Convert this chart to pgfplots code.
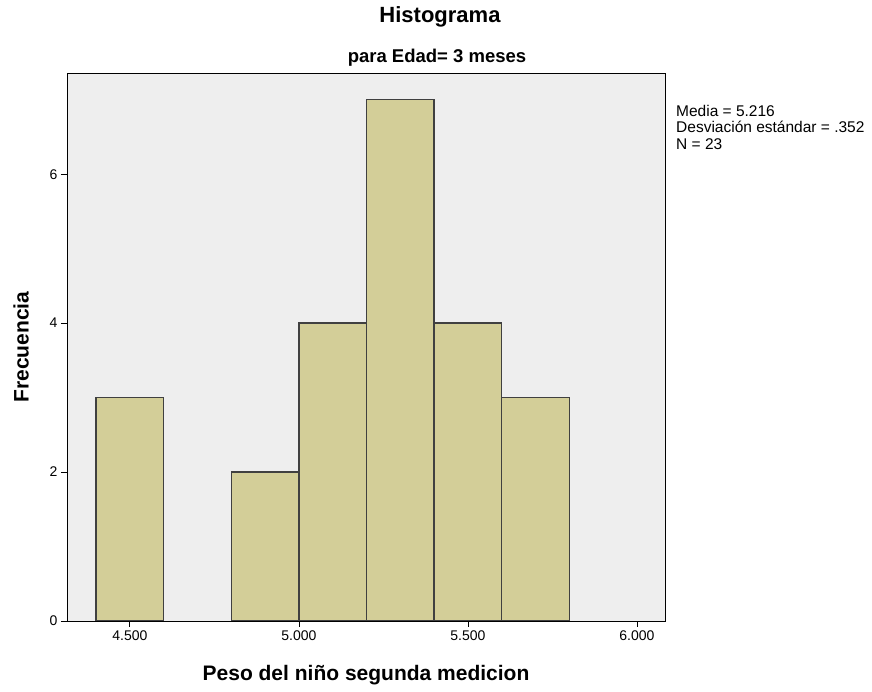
\documentclass[border=0pt]{standalone}
\usepackage{pgfplots}
\pgfplotsset{compat=1.18}
\usepackage{fontspec}
\setmainfont{Liberation Sans}
\definecolor{barfill}{HTML}{D3CE98}
\definecolor{bg}{HTML}{EEEEEE}
\begin{document}
\begin{tikzpicture}[x=1pt,y=1pt]
\useasboundingbox (0pt,0pt) rectangle (872pt,692pt);
\begin{axis}[
  at={(67pt,71pt)}, anchor=south west,
  scale only axis, width=598pt, height=548pt,
  xmin=4.314, xmax=6.083, ymin=0, ymax=7.36,
  axis background/.style={fill=bg},
  xtick={4.5,5,5.5,6}, xticklabels={4.500,5.000,5.500,6.000},
  ytick={0,2,4,6},
  tick align=outside, tick pos=left,
  major tick length=6pt,
  tick style={black, line width=0.8pt},
  axis line style={black, line width=0.8pt},
  /pgf/number format/assume math mode=true,
  ticklabel style={font=\fontsize{14}{16}\selectfont},
  xlabel={\textbf{Peso del niño segunda medicion}},
  ylabel={\textbf{Frecuencia}},
  xlabel style={font=\fontsize{21}{24}\selectfont, yshift=-18pt},
  ylabel style={font=\fontsize{21}{24}\selectfont, yshift=14pt},
]
\addplot[ybar interval, fill=barfill, draw=black!75, line width=1.4pt] coordinates {(4.4,3) (4.6,3)};
\addplot[ybar interval, fill=barfill, draw=black!75, line width=1.4pt] coordinates {(4.8,2) (5.0,4) (5.2,7) (5.4,4) (5.6,3) (5.8,3)};
\end{axis}
\node[font=\fontsize{22}{26}\selectfont\bfseries] at (440pt,675pt) {Histograma};
\node[font=\fontsize{18.5}{22}\selectfont\bfseries] at (437pt,634pt) {para Edad= 3 meses};
\node[anchor=north west, align=left, font=\fontsize{15.5}{16.5}\selectfont, inner sep=0pt] at (676pt,587pt) {Media = 5.216\\Desviación estándar = .352\\N = 23};
\end{tikzpicture}
\end{document}
